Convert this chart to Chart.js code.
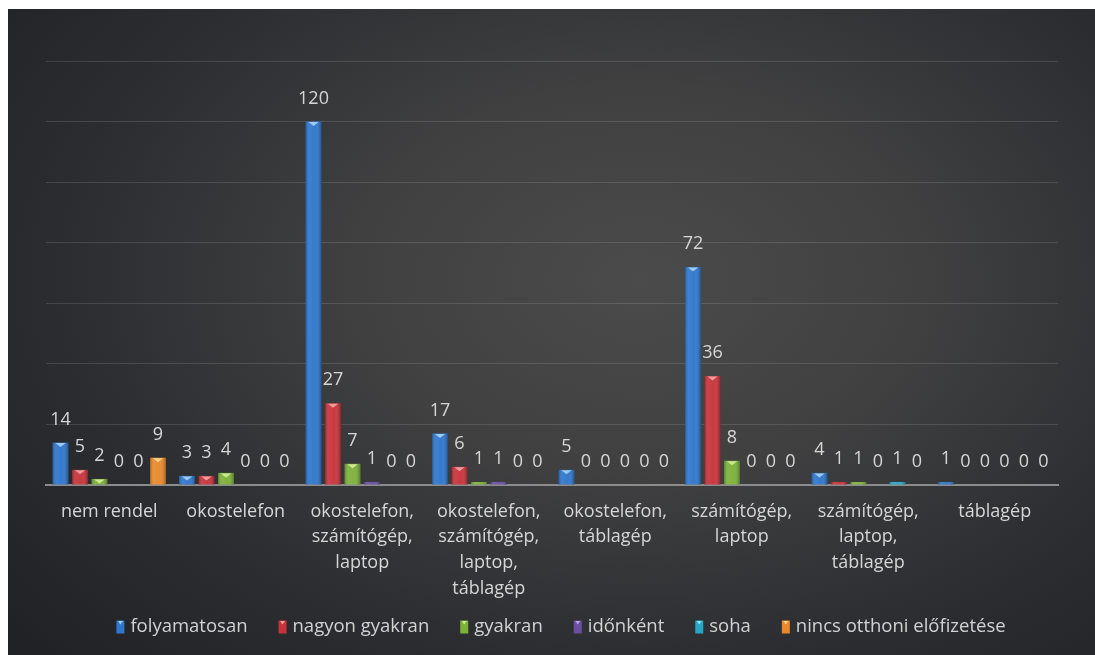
<!DOCTYPE html>
<html>
<head>
<meta charset="utf-8">
<script src="https://cdn.jsdelivr.net/npm/chart.js@4"></script>
<style>
  body { margin: 0; background: #ffffff; }
  #wrap {
    position: absolute; left: 8px; top: 9px; width: 1087px; height: 646px;
    background: radial-gradient(ellipse 75% 85% at 58% 42%, #4b4b4c 0%, #404041 35%, #2b2d30 70%, #202226 100%);
  }
</style>
</head>
<body>
<div id="wrap"><canvas id="myChart"></canvas></div>
<script>
const kategoriak = [
  'nem rendel',
  'okostelefon',
  ['okostelefon,', 'számítógép,', 'laptop'],
  ['okostelefon,', 'számítógép,', 'laptop,', 'táblagép'],
  ['okostelefon,', 'táblagép'],
  ['számítógép,', 'laptop'],
  ['számítógép,', 'laptop,', 'táblagép'],
  'táblagép'
];
const sorozatNevek = ['folyamatosan', 'nagyon gyakran', 'gyakran', 'időnként', 'soha', 'nincs otthoni előfizetése'];
const folyamatosan = [14, 3, 120, 17, 5, 72, 4, 1];
const nagyonGyakran = [5, 3, 27, 6, 0, 36, 1, 0];
const gyakran = [2, 4, 7, 1, 0, 8, 1, 0];
const idonkent = [0, 0, 1, 1, 0, 0, 0, 0];
const soha = [0, 0, 0, 0, 0, 0, 1, 0];
const nincsElofizetes = [9, 0, 0, 0, 0, 0, 0, 0];
const yMax = 140;
const yLepes = 20;

const szinek = ['#2f76cd', '#c8333a', '#7cb13a', '#6a4fa3', '#27a7c4', '#e9892b'];
const vilagos = ['#9cccf5', '#f39a9d', '#cdeb8e', '#b7a3e6', '#8fe3f2', '#ffd08c'];

const ctx = document.getElementById('myChart');

// felirat az oszlopok fole + 3D hatas
const oszlopPlugin = {
  id: 'oszlop',
  afterDatasetsDraw(chart) {
    const c = chart.ctx;
    chart.data.datasets.forEach((ds, i) => {
      const meta = chart.getDatasetMeta(i);
      meta.data.forEach((bar, j) => {
        const w = bar.width;
        const left = bar.x - w / 2;
        const h = bar.base - bar.y;
        if (h > 0.5) {
          const g = c.createLinearGradient(left, 0, left + w, 0);
          g.addColorStop(0, 'rgba(0,0,0,0.28)');
          g.addColorStop(0.25, 'rgba(255,255,255,0.08)');
          g.addColorStop(0.6, 'rgba(255,255,255,0.03)');
          g.addColorStop(1, 'rgba(0,0,0,0.32)');
          c.fillStyle = g;
          c.fillRect(left, bar.y, w, h);
          if (h > 5) {
            c.fillStyle = vilagos[i];
            c.beginPath();
            c.moveTo(bar.x - w * 0.32, bar.y + 0.5);
            c.lineTo(bar.x + w * 0.32, bar.y + 0.5);
            c.lineTo(bar.x, bar.y + 4.5);
            c.closePath();
            c.fill();
          }
        }
        c.fillStyle = '#d6d6d6';
        c.font = '18px "Open Sans"';
        c.textAlign = 'center';
        c.textBaseline = 'middle';
        c.fillText(ds.data[j], bar.x, bar.y - 23);
      });
    });
  }
};

// jelmagyarazat alul, kozepre
const jelmagyarazatPlugin = {
  id: 'jelmagyarazat',
  afterDraw(chart) {
    const c = chart.ctx;
    c.save();
    c.font = '18.5px "Open Sans"';
    c.textBaseline = 'middle';
    c.textAlign = 'left';
    const doboz = 8, resz = 6, koz = 31;
    const szelessegek = sorozatNevek.map(t => c.measureText(t).width);
    let ossz = 0;
    szelessegek.forEach((s, i) => { ossz += doboz + resz + s + (i < szelessegek.length - 1 ? koz : 0); });
    let x = 553 - ossz / 2;
    const y = 618;
    sorozatNevek.forEach((t, i) => {
      c.fillStyle = szinek[i];
      c.fillRect(x, y - 6.5, doboz, 13);
      c.fillStyle = vilagos[i];
      c.beginPath();
      c.moveTo(x + 1.5, y - 6);
      c.lineTo(x + doboz - 1.5, y - 6);
      c.lineTo(x + doboz / 2, y - 2.5);
      c.closePath();
      c.fill();
      c.fillStyle = '#d2d2d2';
      c.fillText(t, x + doboz + resz, y);
      x += doboz + resz + szelessegek[i] + koz;
    });
    c.restore();
  }
};

new Chart(ctx, {
  type: 'bar',
  data: {
    labels: kategoriak,
    datasets: [folyamatosan, nagyonGyakran, gyakran, idonkent, soha, nincsElofizetes].map((adat, i) => ({
      label: sorozatNevek[i],
      data: adat,
      backgroundColor: szinek[i],
      borderWidth: 0,
      categoryPercentage: 0.925,
      barPercentage: 0.82
    }))
  },
  options: {
    responsive: true,
    maintainAspectRatio: false,
    animation: false,
    layout: { padding: { left: 38, right: 37, top: 52, bottom: 54 } },
    plugins: {
      tooltip: { enabled: false },
      legend: { display: false }
    },
    scales: {
      x: {
        grid: { display: false, drawTicks: false },
        border: { color: '#8c8c8c', width: 2 },
        ticks: {
          color: '#d6d6d6',
          padding: 14,
          maxRotation: 0,
          autoSkip: false,
          font: { family: 'Open Sans', size: 18, lineHeight: 1.42 }
        },
        afterFit(scale) { scale.height = 116; }
      },
      y: {
        min: 0,
        max: yMax,
        border: { display: false },
        grid: {
          color: 'rgba(255,255,255,0.13)',
          drawTicks: false
        },
        ticks: { display: false, stepSize: yLepes }
      }
    }
  },
  plugins: [oszlopPlugin, jelmagyarazatPlugin]
});
</script>
</body>
</html>
